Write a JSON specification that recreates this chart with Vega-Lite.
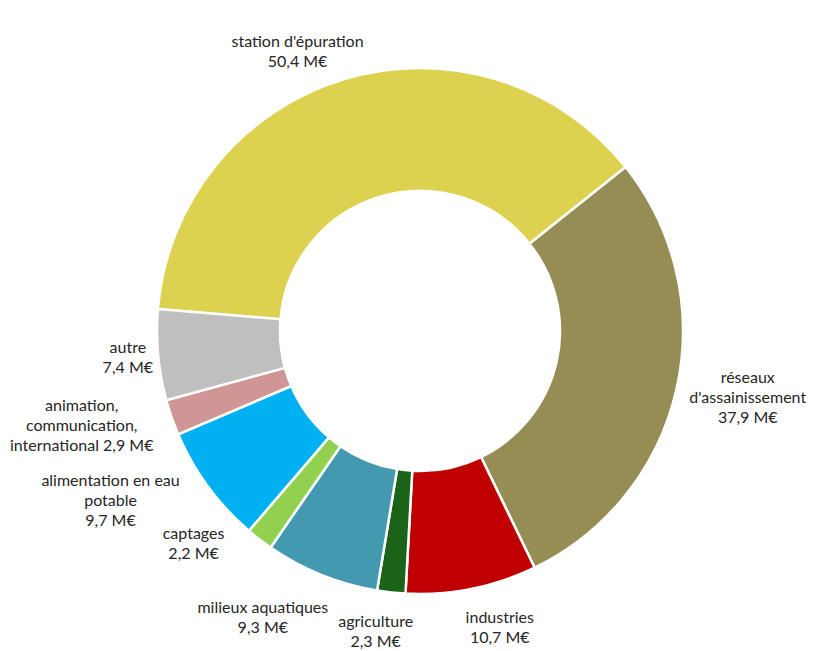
{
  "$schema": "https://vega.github.io/schema/vega-lite/v6.json",
  "width": 840,
  "height": 651,
  "autosize": {"type": "fit", "contains": "padding"},
  "padding": {"top": 11, "bottom": 0, "left": 0, "right": 0},
  "background": "white",
  "view": {"stroke": null},
  "data": {
    "values": [
      {"ordre": 1, "poste": "station d'épuration", "montant": 50.4, "label": "station d'épuration\n50,4 M€"},
      {"ordre": 2, "poste": "réseaux d'assainissement", "montant": 37.9, "label": "réseaux\nd'assainissement\n37,9 M€"},
      {"ordre": 3, "poste": "industries", "montant": 10.7, "label": "industries\n10,7 M€"},
      {"ordre": 4, "poste": "agriculture", "montant": 2.3, "label": "agriculture\n2,3 M€"},
      {"ordre": 5, "poste": "milieux aquatiques", "montant": 9.3, "label": "milieux aquatiques\n9,3 M€"},
      {"ordre": 6, "poste": "captages", "montant": 2.2, "label": "captages\n2,2 M€"},
      {"ordre": 7, "poste": "alimentation en eau potable", "montant": 9.7, "label": "alimentation en eau\npotable\n9,7 M€"},
      {"ordre": 8, "poste": "animation, communication, international", "montant": 2.9, "label": "animation,\ncommunication,\ninternational 2,9 M€"},
      {"ordre": 9, "poste": "autre", "montant": 7.4, "label": "autre\n7,4 M€"}
    ]
  },
  "encoding": {
    "theta": {"field": "montant", "type": "quantitative", "stack": true, "scale": {"range": [-1.487, 4.796]}},
    "order": {"field": "ordre", "type": "quantitative", "sort": "ascending"}
  },
  "layer": [
    {
      "mark": {"type": "arc", "outerRadius": 263, "innerRadius": 140, "stroke": "white", "strokeWidth": 2.5},
      "encoding": {
        "color": {
          "field": "poste",
          "type": "nominal",
          "legend": null,
          "scale": {
            "domain": ["station d'épuration", "réseaux d'assainissement", "industries", "agriculture", "milieux aquatiques", "captages", "alimentation en eau potable", "animation, communication, international", "autre"],
            "range": ["#DDD150", "#968D55", "#C00000", "#1A6318", "#4399B0", "#92D050", "#00B0F0", "#D09595", "#BFBFBF"]
          }
        }
      }
    },
    {
      "mark": {
        "type": "text",
        "thetaOffset": {"expr": "0.19 * sin(scale('theta', datum.montant_start) + scale('theta', datum.montant_end))"},
        "radius": {"expr": "270 + abs(sin((scale('theta', datum.montant_start) + scale('theta', datum.montant_end)) / 2 + 0.19 * sin(scale('theta', datum.montant_start) + scale('theta', datum.montant_end)))) * 3.6 * max(length(split(datum.label + '\\n\\n', '\\n')[0]), length(split(datum.label + '\\n\\n', '\\n')[1]), length(split(datum.label + '\\n\\n', '\\n')[2])) + abs(cos((scale('theta', datum.montant_start) + scale('theta', datum.montant_end)) / 2 + 0.19 * sin(scale('theta', datum.montant_start) + scale('theta', datum.montant_end)))) * 9.5 * length(split(datum.label, '\\n'))"},
        "font": "Lato",
        "fontSize": 16,
        "lineHeight": 20,
        "lineBreak": "\n",
        "color": "#262626",
        "align": "center",
        "baseline": "middle"
      },
      "encoding": {
        "text": {"field": "label", "type": "nominal"}
      }
    }
  ]
}
